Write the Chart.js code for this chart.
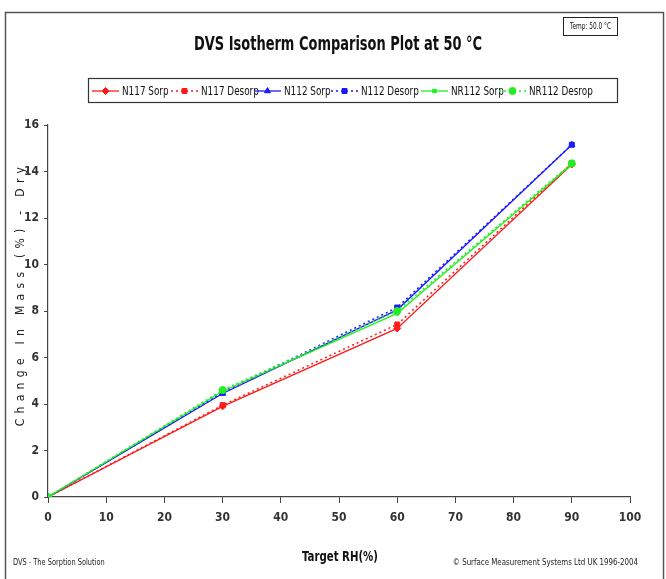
<!DOCTYPE html>
<html>
<head>
<meta charset="utf-8">
<script src="https://cdn.jsdelivr.net/npm/chart.js@4/dist/chart.umd.min.js"></script>
<style>
  html, body { margin: 0; padding: 0; background: #fff; }
  #wrap { width: 666px; height: 579px; }
</style>
</head>
<body>
<div id="wrap"><canvas id="dvs" width="666" height="579"></canvas></div>
<script>
// data
const targetRH = [0, 30, 60, 90];
const n117Sorp = [0, 3.9, 7.25, 14.3];
const n117Desorp = [0, 3.95, 7.42, 14.35];
const n112Sorp = [0, 4.45, 8.05, 15.15];
const n112Desorp = [0, 4.5, 8.15, 15.15];
const nr112Sorp = [0, 4.55, 7.9, 14.3];
const nr112Desorp = [0, 4.6, 8.0, 14.35];
const xTicks = [0, 10, 20, 30, 40, 50, 60, 70, 80, 90, 100];
const yTicks = [0, 2, 4, 6, 8, 10, 12, 14, 16];

const FONT = '"Liberation Sans Narrow", "DejaVu Sans Condensed", "Liberation Sans", sans-serif';
const RED = '#ff1a1a', BLUE = '#1a1aff', GREEN = '#22ee22';

function pts(vals) {
    return vals.map((v, i) => ({ x: targetRH[i], y: v }));
}

function mkSet(label, vals, color, dashed, marker, radius, order) {
    return {
        label: label,
        data: pts(vals),
        borderColor: color,
        backgroundColor: color,
        borderWidth: dashed ? 1.5 : 1.3,
        borderDash: dashed ? [2, 3] : [],
        pointStyle: marker,
        pointRadius: radius,
        pointBorderWidth: 1,
        pointBorderColor: color,
        pointBackgroundColor: color,
        tension: 0,
        order: order
    };
}

// squeezed text, the original uses a narrow face
function narrow(ctx, txt, x, y, sx, align) {
    ctx.save();
    ctx.translate(x, y);
    ctx.scale(sx, 1);
    ctx.textAlign = align;
    ctx.fillText(txt, 0, 0);
    ctx.restore();
}

// frame, title, legend box, temp box, footers
const decor = {
    id: 'decor',
    afterDraw(chart) {
        const ctx = chart.ctx;
        ctx.save();
        ctx.textBaseline = 'middle';
        // outer frame
        ctx.strokeStyle = '#555';
        ctx.lineWidth = 1.5;
        ctx.strokeRect(5.5, 12.5, 658, 600);

        // temp box
        ctx.strokeStyle = '#222';
        ctx.lineWidth = 1;
        ctx.strokeRect(563.5, 17.5, 54, 18);
        ctx.fillStyle = '#111';
        ctx.font = '9px ' + FONT;
        narrow(ctx, 'Temp: 50.0 °C', 590.5, 27, 0.72, 'center');

        // title
        ctx.font = 'bold 19px ' + FONT;
        ctx.fillStyle = '#111';
        narrow(ctx, 'DVS Isotherm Comparison Plot at 50 °C', 338, 45, 0.76, 'center');

        // legend
        ctx.strokeStyle = '#333';
        ctx.lineWidth = 1.2;
        ctx.strokeRect(88.5, 78.5, 529, 24);
        const lx = [92, 171, 254, 331, 421, 499];
        ctx.font = '12px ' + FONT;
        chart.data.datasets.forEach((ds, i) => {
            const x0 = lx[i], y0 = 91;
            ctx.strokeStyle = ds.borderColor;
            ctx.fillStyle = ds.borderColor;
            ctx.lineWidth = ds.borderWidth;
            ctx.setLineDash(ds.borderDash);
            ctx.beginPath();
            ctx.moveTo(x0, y0);
            ctx.lineTo(x0 + 27, y0);
            ctx.stroke();
            ctx.setLineDash([]);
            ctx.lineWidth = 1;
            Chart.helpers.drawPoint(ctx, {
                pointStyle: ds.pointStyle, radius: ds.pointRadius, rotation: 0, borderWidth: 1
            }, x0 + 13.5, y0);
            ctx.fillStyle = '#111';
            narrow(ctx, ds.label, x0 + 30, y0 + 1, 0.82, 'left');
        });

        // y axis title, letter spaced
        ctx.save();
        ctx.translate(21, 294);
        ctx.rotate(-Math.PI / 2);
        ctx.font = '12px ' + FONT;
        ctx.letterSpacing = '5.3px';
        ctx.textAlign = 'center';
        ctx.fillStyle = '#222';
        ctx.fillText('Change In Mass (%) - Dry', 0, 0);
        ctx.restore();

        // x axis title
        ctx.font = 'bold 14px ' + FONT;
        ctx.fillStyle = '#111';
        narrow(ctx, 'Target RH(%)', 340, 557, 0.81, 'center');

        // footers
        ctx.font = '8px ' + FONT;
        ctx.fillStyle = '#222';
        narrow(ctx, 'DVS - The Sorption Solution', 13, 563, 0.92, 'left');
        narrow(ctx, '© Surface Measurement Systems Ltd UK 1996-2004', 638, 563, 0.98, 'right');
        ctx.restore();
    }
};

const axisFont = { family: FONT, size: 12, weight: 'bold' };

new Chart(document.getElementById('dvs').getContext('2d'), {
    type: 'line',
    data: {
        datasets: [
            mkSet('N117 Sorp', n117Sorp, RED, false, 'rectRot', 3.5, 2),
            mkSet('N117 Desorp', n117Desorp, RED, true, 'rect', 3.5, 2),
            mkSet('N112 Sorp', n112Sorp, BLUE, false, 'triangle', 3.5, 1),
            mkSet('N112 Desorp', n112Desorp, BLUE, true, 'rect', 3.5, 1),
            mkSet('NR112 Sorp', nr112Sorp, GREEN, false, 'rect', 2.5, 0),
            mkSet('NR112 Desrop', nr112Desorp, GREEN, true, 'circle', 3.5, 0)
        ]
    },
    options: {
        responsive: false,
        animation: false,
        devicePixelRatio: 1,
        layout: { padding: { left: 5, right: 36, top: 125, bottom: 0 } },
        plugins: {
            legend: { display: false },
            title: { display: false },
            tooltip: { enabled: false }
        },
        scales: {
            x: {
                type: 'linear',
                min: 0,
                max: 100,
                afterFit(scale) { scale.height = 82; },
                afterBuildTicks(scale) { scale.ticks = xTicks.map(v => ({ value: v })); },
                border: { display: true, color: '#444', width: 1.2 },
                grid: { drawOnChartArea: false, drawTicks: true, tickLength: 6, color: '#444' },
                ticks: { color: '#333', font: axisFont, padding: 8, maxRotation: 0 }
            },
            y: {
                type: 'linear',
                min: 0,
                max: 16,
                afterFit(scale) { scale.width = 43; },
                afterBuildTicks(scale) { scale.ticks = yTicks.map(v => ({ value: v })); },
                border: { display: true, color: '#444', width: 1.2 },
                grid: { drawOnChartArea: false, drawTicks: true, tickLength: 4, color: '#444' },
                ticks: { color: '#333', font: axisFont, padding: 5 }
            }
        }
    },
    plugins: [decor]
});
</script>
</body>
</html>
